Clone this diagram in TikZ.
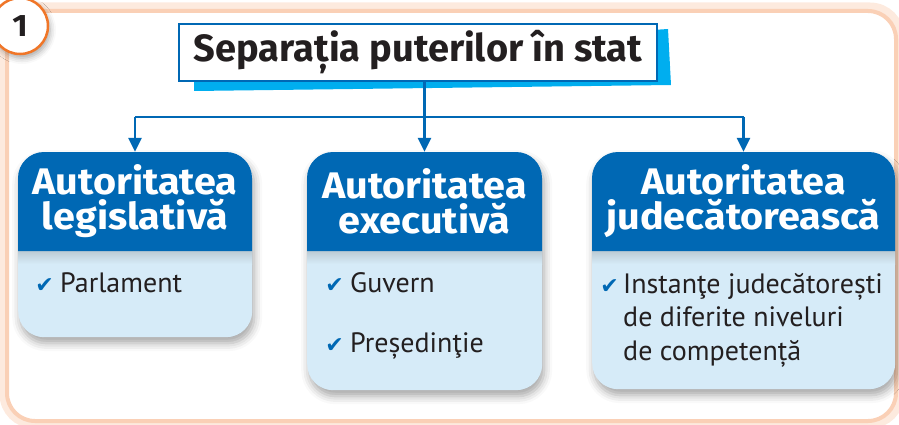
\documentclass[tikz,border=0pt]{standalone}
\usepackage{fontspec}
\setmainfont{Fira Sans}
\newfontfamily\headfont{Fira Sans}[FakeStretch=1.07]
\newfontfamily\titlefont{Fira Sans}
\newfontfamily\bodyfont{PT Sans}
\newfontfamily\symfont{DejaVu Sans}
\usetikzlibrary{shadows.blur,arrows.meta}
\definecolor{hblue}{RGB}{0,104,180}
\definecolor{lblue}{RGB}{214,235,248}
\definecolor{cyanS}{RGB}{0,174,239}
\definecolor{peach}{RGB}{250,208,182}
\definecolor{orng}{RGB}{240,118,40}
\definecolor{ink}{RGB}{35,31,32}
\begin{document}
\begin{tikzpicture}[x=1pt,y=-1pt,
  conn/.style={hblue, line width=2.5pt},
  arr/.style={conn, -{Triangle[length=14pt,width=13pt]}},
  card/.style={fill=lblue, rounded corners=26pt, inner sep=0pt, anchor=north west,
    blur shadow={shadow xshift=2pt, shadow yshift=-6pt, shadow blur radius=8pt, shadow opacity=35}},
  hdr/.style={text=white, font=\headfont\bfseries\fontsize{37}{35}\selectfont, align=center, inner sep=0pt, minimum height=99pt},
  item/.style={anchor=base west, inner sep=0pt, text=ink, font=\bodyfont\fontsize{28}{28}\selectfont},
  chk/.style={anchor=base east, inner sep=0pt, text=hblue, font=\symfont\fontsize{22}{22}\selectfont},
]
\useasboundingbox (0,0) rectangle (899,425);
% outer frame
\draw[peach!45, line width=9pt, rounded corners=30pt] (4,7) rectangle (900,424);
\draw[peach, line width=4pt, rounded corners=28pt] (7,11) rectangle (896,421);
% number badge
\node[circle, draw=orng, line width=2.5pt, fill=white, minimum size=56pt, inner sep=0pt,
  blur shadow={shadow xshift=2pt, shadow yshift=-4pt, shadow blur radius=6pt, shadow opacity=35},
  font=\headfont\bfseries\fontsize{31}{31}\selectfont, text=ink] (num) at (20,26) {1};
% title
\fill[cyanS] (194,60) -- (668,29) -- (671,85) -- (194,91) -- cycle;
\node[draw=hblue, line width=2.5pt, fill=white, minimum width=478pt, minimum height=57pt, inner sep=0pt,
  font=\titlefont\bfseries\fontsize{38}{38}\selectfont, text=ink] (title) at (418,52.5) {Separația puterilor în stat};
% cards
\node[card, minimum width=234pt, minimum height=185pt] (b1) at (18,152) {};
\node[card, minimum width=235pt, minimum height=238pt] (b2) at (307,152) {};
\node[card, minimum width=303pt, minimum height=237pt] (b3) at (592,152) {};
\foreach \l/\r in {18/252, 307/542, 592/895}{
  \shade[top color=lblue!70!gray, bottom color=lblue] (\l,251) rectangle (\r,264);
  \fill[hblue] (\l,251) [rounded corners=26pt] -- (\l,152) -- (\r,152) [sharp corners] -- (\r,251) -- cycle;
}
\node[hdr, minimum width=234pt] (h1) at (135,201.5) {Autoritatea\\legislativă};
\node[hdr, minimum width=235pt] (h2) at (424.5,201.5) {Autoritatea\\executivă};
\node[hdr, minimum width=303pt] (h3) at (743.5,201.5) {Autoritatea\\judecătorească};
% connectors
\coordinate (bus) at (0,117);
\draw[conn] (title.south -| h2.north) -- (h2.north |- bus);
\draw[conn] (h1.north |- bus) -- (h3.north |- bus);
\draw[arr] (h1.north |- bus) -- (h1.north);
\draw[arr] (h2.north |- bus) -- (h2.north);
\draw[arr] (h3.north |- bus) -- (h3.north);
% items
\node[item] (i1) at (60,292) {Parlament};
\node[chk] (c1) at ([xshift=-6pt]i1.base west) {✔};
\node[item] (i2a) at (350,292) {Guvern};
\node[chk] (c2a) at ([xshift=-6pt]i2a.base west) {✔};
\node[item] (i2b) at (350,352) {Președinţie};
\node[chk] (c2b) at ([xshift=-6pt]i2b.base west) {✔};
\node[item] (i3a) at (623,293) {Instanţe judecătorești};
\node[chk] (c3a) at ([xshift=-4pt]i3a.base west) {✔};
\node[item] (i3b) at (623,326.5) {de diferite niveluri};
\node[item] (i3c) at (623,360) {de competență};
\end{tikzpicture}
\end{document}
